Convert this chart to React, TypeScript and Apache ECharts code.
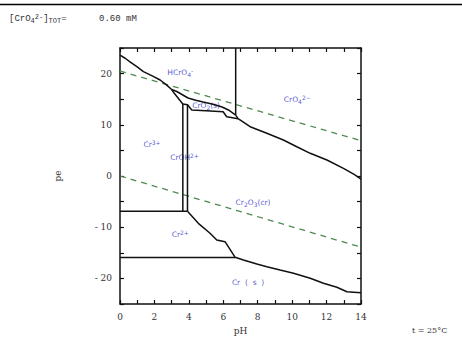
import React, { useEffect, useRef } from "react";
import * as echarts from "echarts";

// ---- data (pH, pe) ----
const xTicks = [0, 1, 2, 3, 4, 5, 6, 7, 8, 9, 10, 11, 12, 13, 14];
const yTicks = [-25, -20, -15, -10, -5, 0, 5, 10, 15, 20, 25];

const cr6Cr3Left: [number, number][] = [
  [0, 23.6], [0.3, 23.0], [0.58, 22.3], [1.0, 21.3], [1.36, 20.4], [1.9, 19.5], [2.33, 18.75], [2.7, 17.8], [3.0, 16.9],
];
const triangleA: [number, number][] = [[3.0, 16.9], [3.3, 16.5], [3.95, 15.23]];
const triangleB: [number, number][] = [[3.0, 16.9], [3.14, 16.2], [3.65, 14.06]];
const bandUpper: [number, number][] = [
  [3.95, 15.23], [4.4, 14.8], [4.83, 14.45], [5.4, 14.0], [5.93, 13.48], [6.3, 12.9], [6.72, 11.9],
];
const bandLower: [number, number][] = [
  [3.65, 14.06], [3.92, 13.9], [4.17, 12.89], [5.0, 12.75], [5.99, 12.56], [6.2, 11.58], [6.86, 11.2],
];
const hcro4Cro4: [number, number][] = [[6.72, 25], [6.72, 11.9]];
const cro4Upper: [number, number][] = [
  [6.72, 11.9], [6.86, 11.2], [7.56, 9.63], [8.53, 8.34], [9.49, 7.03], [10.27, 5.72], [11.05, 4.43], [12.02, 3.13], [12.98, 1.5], [13.6, 0.3], [14.0, -0.6],
];
const vertLeft: [number, number][] = [[3.65, 14.06], [3.65, -6.9]];
const vertRight: [number, number][] = [[3.92, 13.9], [3.92, -6.9]];
const cr3Cr2: [number, number][] = [[0, -6.9], [3.92, -6.9]];
const cr2Cr0: [number, number][] = [[0, -15.9], [6.69, -15.9]];
const lowerBoundary: [number, number][] = [
  [3.92, -6.9], [4.55, -9.24], [5.23, -11.19], [5.62, -12.5], [6.1, -12.83], [6.69, -15.88], [7.17, -16.4], [7.95, -17.19],
  [8.53, -17.71], [9.3, -18.36], [10.08, -19.0], [11.05, -19.98], [11.82, -20.96], [12.6, -21.74], [13.18, -22.6], [14.0, -22.8],
];
const waterO2: [number, number][] = [[0, 20.5], [14, 6.9]];
const waterH2: [number, number][] = [[0, 0], [14, -13.9]];

const regionNames = ["HCrO4-", "CrO4 2-", "CrO2(s)", "Cr3+", "CrOH2+", "Cr2O3(cr)", "Cr2+", "Cr(s)"];
const regionLabels = [
  "HCrO{sub|4}{sup|-}",
  "CrO{sub|4}{sup|2−}",
  "CrO{sub|2}(s)",
  "Cr{sup|3+}",
  "CrOH{sup|2+}",
  "Cr{sub|2}O{sub|3}(cr)",
  "Cr{sup|2+}",
  "Cr  (  s  )",
];
const regionPH = [3.5, 10.3, 5.0, 1.86, 3.75, 7.73, 3.5, 7.44];
const regionPE = [20.3, 15.0, 13.7, 6.25, 3.7, -5.1, -11.5, -20.8];

export default function App() {
  const ref = useRef<HTMLDivElement>(null);
  useEffect(() => {
    if (!ref.current) return;
    const chart = echarts.init(ref.current, undefined, { renderer: "svg" });
    const black = (data: [number, number][]) => ({
      type: "line",
      data,
      showSymbol: false,
      symbol: "none",
      lineStyle: { color: "#111", width: 1.5 },
      silent: true,
    });
    const dashed = (data: [number, number][]) => ({
      type: "line",
      data,
      showSymbol: false,
      symbol: "none",
      lineStyle: { color: "#4f8a4f", width: 1.3, type: [6, 5] },
      silent: true,
    });
    const axisLine = { show: true, onZero: false, lineStyle: { color: "#111", width: 1.5 } };
    const tick = { inside: true, length: 4, lineStyle: { color: "#111", width: 1.2 } };
    const blue = "#2b2bc8";
    chart.setOption({
      animation: false,
      backgroundColor: "#fff",
      grid: { left: 120, top: 48, width: 241, height: 256, containLabel: false },
      xAxis: [
        {
          type: "value", min: 0, max: 14, interval: 1, position: "bottom",
          axisLine, splitLine: { show: false }, axisTick: tick,
          axisLabel: {
            fontFamily: "DejaVu Serif", fontSize: 9, color: "#333", margin: 8,
            formatter: (v: number) => (v % 2 === 0 ? String(v) : ""),
          },
          name: "pH", nameLocation: "middle", nameGap: 22,
          nameTextStyle: { fontFamily: "DejaVu Serif", fontSize: 9, color: "#333" },
        },
        {
          type: "value", min: 0, max: 14, interval: 1, position: "top",
          axisLine, splitLine: { show: false }, axisTick: tick,
          axisLabel: { show: false },
        },
      ],
      yAxis: [
        {
          type: "value", min: -25, max: 25, interval: 5, position: "left",
          axisLine, splitLine: { show: false }, axisTick: tick,
          axisLabel: {
            fontFamily: "DejaVu Serif", fontSize: 9, color: "#333", margin: 8,
            formatter: (v: number) => (v % 10 === 0 ? (v < 0 ? "- " + Math.abs(v) : String(v)) : ""),
          },
          name: "pe", nameLocation: "middle", nameGap: 58, nameRotate: 90,
          nameTextStyle: { fontFamily: "DejaVu Serif", fontSize: 9, color: "#333" },
        },
        {
          type: "value", min: -25, max: 25, interval: 5, position: "right",
          axisLine, splitLine: { show: false }, axisTick: tick,
          axisLabel: { show: false },
        },
      ],
      series: [
        dashed(waterO2),
        dashed(waterH2),
        black(cr6Cr3Left),
        black(triangleA),
        black(triangleB),
        black(bandUpper),
        black(bandLower),
        black(hcro4Cro4),
        black(cro4Upper),
        black(vertLeft),
        black(vertRight),
        black(cr3Cr2),
        black(cr2Cr0),
        black(lowerBoundary),
        {
          type: "scatter",
          symbolSize: 0,
          silent: true,
          data: regionNames.map((n, i) => ({ name: n, value: [regionPH[i], regionPE[i]] })),
          label: {
            show: true,
            position: "inside",
            formatter: (p: any) => regionLabels[p.dataIndex],
            fontFamily: "DejaVu Sans",
            fontSize: 7.5,
            color: blue,
            rich: {
              sub: { fontSize: 6, color: blue, padding: [4, 0, 0, 0] },
              sup: { fontSize: 6, color: blue, padding: [0, 0, 4, 0] },
            },
          },
        },
      ],
      graphic: [
        { type: "line", shape: { x1: 0, y1: 4.5, x2: 462, y2: 4.5 }, style: { stroke: "#000", lineWidth: 1.6 } },
        {
          type: "text", left: 9, top: 13,
          style: {
            text: "[CrO{sub|4}{sup|2-}]{sub|TOT}=      0.60 mM",
            fontFamily: "Liberation Mono", fontSize: 9, fill: "#333",
            rich: {
              sub: { fontFamily: "Liberation Mono", fontSize: 7, fill: "#333", padding: [5, 0, 0, 0] },
              sup: { fontFamily: "Liberation Mono", fontSize: 7, fill: "#333", padding: [0, 0, 4, 0] },
            },
          },
        },
        {
          type: "text", left: 412, top: 326,
          style: { text: "t = 25°C", fontFamily: "DejaVu Serif", fontSize: 8, fill: "#333" },
        },
      ],
    });
    return () => chart.dispose();
  }, []);
  return <div ref={ref} style={{ position: "fixed", left: 0, top: 0, width: 462, height: 342 }} />;
}
